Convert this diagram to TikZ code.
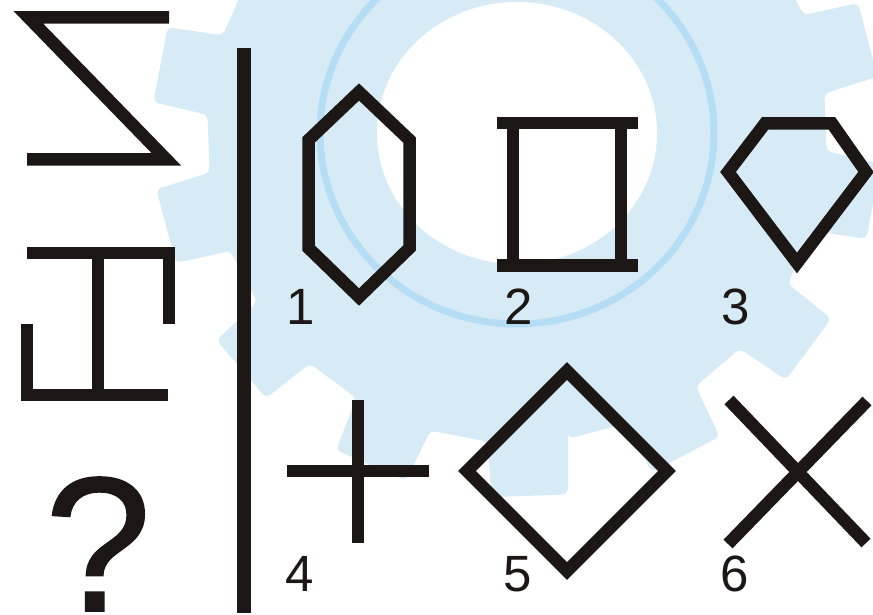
\documentclass[tikz,border=0pt]{standalone}
\usepackage{fontspec}
\setmainfont{Liberation Sans}
\newfontfamily\questfont[FakeBold=0.8]{Liberation Sans}
\usepackage{xcolor}
\usepackage{tikz}
\usetikzlibrary{calc}

\definecolor{gearblue}{RGB}{215,235,247}
\definecolor{ringblue}{RGB}{181,221,244}
\definecolor{inkblack}{RGB}{28,22,20}

\begin{document}
\begin{tikzpicture}[
            x=1pt,
            y=-1pt,
            figline/.style={draw=inkblack, line width=12.5pt},
            numlabel/.style={anchor=base, inner sep=0pt, text=inkblack,
                font=\fontsize{51}{51}\selectfont}
            ]

            \useasboundingbox (0,0) rectangle (873,615);
            \clip (0,0) rectangle (873,615);

            % 背景齿轮
            \fill[gearblue, rounded corners=5pt, shift={(517,133)}]
                (80.5:310) \foreach \k in {0,...,13} {
                    -- ({88+\k*25.714-7.5}:310) -- ({88+\k*25.714-6}:365)
                    -- ({88+\k*25.714+6}:365) -- ({88+\k*25.714+7.5}:310)
                } -- cycle;
            \fill[white] (517,133) ellipse [x radius=140, y radius=131];
            \draw[ringblue, line width=7pt] (517,133) ellipse [x radius=197, y radius=191];

            % 左侧三个符号
            \draw[figline] (169,17.5) -- (28.5,17.5) -- (166.5,159.5) -- (27,159.5);

            \draw[figline] (27,253) -- (169,253) -- (169,324);
            \draw[figline] (98,259) -- (98,389);
            \draw[figline] (27,324) -- (27,395) -- (168,395);

            \node[anchor=base, inner sep=0pt, text=inkblack,
                font=\questfont\fontsize{192}{192}\selectfont] (q) at (98,611) {?};

            % 分割线
            \draw[figline, line width=14pt] (244,48) -- (244,613);

            % 第一行
            \draw[figline] (359,92) -- (409.5,140) -- (409.5,248) -- (359,297)
                -- (308.5,248) -- (308.5,140) -- cycle;

            \draw[figline] (497,123) -- (638,123);
            \draw[figline] (497,265.5) -- (638,265.5);
            \draw[figline] (513,129) -- (513,259);
            \draw[figline] (621,129) -- (621,259);

            \draw[figline] (765,123.5) -- (832,123.5) -- (866,172) -- (797,263)
                -- (728,172) -- cycle;

            \node[numlabel] (l1) at (301,324) {1};
            \node[numlabel] (l2) at (519,324) {2};
            \node[numlabel] (l3) at (736,324) {3};

            % 第二行
            \draw[figline] (358,400) -- (358,543);
            \draw[figline] (287,471) -- (429,471);

            \draw[figline] (567,371) -- (667,471) -- (567,571) -- (467,471) -- cycle;

            \draw[figline] (729,400) -- (866,543);
            \draw[figline] (867,401) -- (728,544);

            \node[numlabel] (l4) at (300,591) {4};
            \node[numlabel] (l5) at (518,591) {5};
            \node[numlabel] (l6) at (735,591) {6};
        \end{tikzpicture}
\end{document}
